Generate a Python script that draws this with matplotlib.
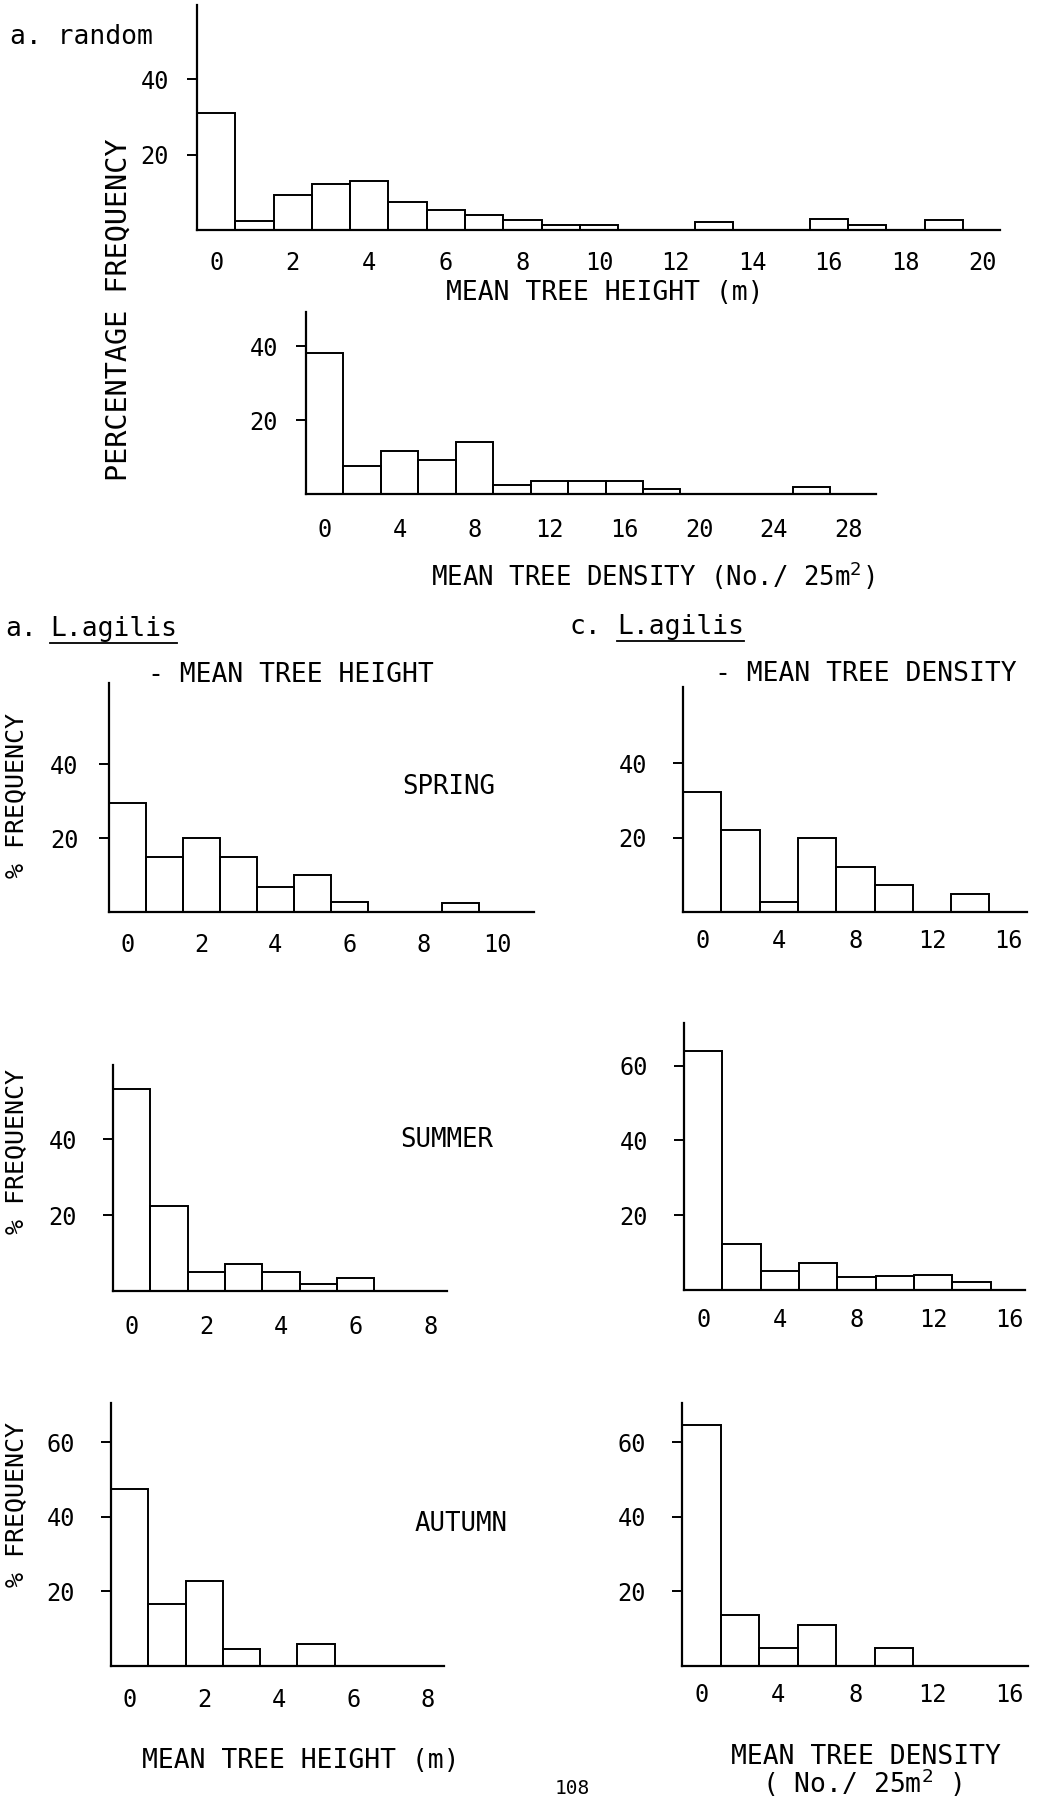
import matplotlib.pyplot as plt
from matplotlib.lines import Line2D


LARGURA_PX, ALTURA_PX = 1039, 1801

FONTE = 'DejaVu Sans Mono'

# quadrats aleatorios - altura media das arvores (classes de 1 m)
ALTURA_ALEATORIO_CLASSES = list(range(0, 20))
ALTURA_ALEATORIO_PCT = [31.0, 2.3, 9.4, 12.3, 12.9, 7.3, 5.4, 4.1, 2.7, 1.3,
                        1.3, 0.0, 0.0, 2.2, 0.0, 0.0, 2.8, 1.4, 0.0, 2.7]
ALTURA_ALEATORIO_TICKS = list(range(0, 21, 2))

# quadrats aleatorios - densidade media (classes de 2 arvores / 25 m2)
DENSIDADE_ALEATORIO_CLASSES = list(range(0, 28, 2))
DENSIDADE_ALEATORIO_PCT = [38.1, 7.7, 11.7, 9.2, 14.1, 2.4, 3.4, 3.4, 3.6, 1.4,
                           0.0, 0.0, 0.0, 1.8]
DENSIDADE_ALEATORIO_TICKS = [0, 4, 8, 12, 16, 20, 24, 28]

# L. agilis - altura media por estacao
ALTURA_PRIMAVERA_CLASSES = list(range(0, 11))
ALTURA_PRIMAVERA_PCT = [29.5, 14.9, 20.1, 15.0, 6.9, 9.9, 2.7, 0.0, 0.0, 2.5, 0.0]
ALTURA_VERAO_CLASSES = list(range(0, 8))
ALTURA_VERAO_PCT = [53.3, 22.4, 5.1, 7.1, 5.1, 1.8, 3.5, 0.0]
ALTURA_OUTONO_CLASSES = list(range(0, 8))
ALTURA_OUTONO_PCT = [47.5, 16.7, 22.9, 4.5, 0.0, 6.0, 0.0, 0.0]
ALTURA_PRIMAVERA_TICKS = [0, 2, 4, 6, 8, 10]
ALTURA_VERAO_TICKS = [0, 2, 4, 6, 8]

# L. agilis - densidade media por estacao
DENSIDADE_CLASSES = list(range(0, 18, 2))
DENSIDADE_PRIMAVERA_PCT = [32.3, 22.1, 2.6, 19.9, 12.2, 7.2, 0.0, 4.9, 0.0]
DENSIDADE_VERAO_PCT = [63.9, 12.3, 5.2, 7.1, 3.6, 3.8, 4.0, 2.1, 0.0]
DENSIDADE_OUTONO_PCT = [64.7, 13.8, 4.9, 11.0, 0.0, 4.7, 0.0, 0.0, 0.0]
DENSIDADE_TICKS = [0, 4, 8, 12, 16]


def fx(px):
    return px / LARGURA_PX


def fy(py):
    return 1 - py / ALTURA_PX


def criar_eixo(fig, x0, x1, base, topo):
    return fig.add_axes([fx(x0), fy(base), fx(x1 - x0), (base - topo) / ALTURA_PX])


def histograma(ax, classes, pct, largura, xlim, ylim, xticks, yticks, pad_x, pad_y):
    ax.bar(classes, pct, width=largura, fill=False, edgecolor='black',
           linewidth=1.4, align='center')
    ax.set_xlim(*xlim)
    ax.set_ylim(*ylim)
    ax.spines[['top', 'right']].set_visible(False)
    ax.spines[['left', 'bottom']].set_linewidth(1.6)
    ax.set_xticks(xticks)
    ax.set_yticks(yticks)
    ax.tick_params(axis='x', length=0, pad=pad_x, labelsize=17)
    ax.tick_params(axis='y', length=7, width=1.4, pad=pad_y, labelsize=17)
    ax.patch.set_alpha(0)


def texto(fig, x, y, s, tamanho=19, **kw):
    return fig.text(fx(x), fy(y), s, fontsize=tamanho, fontfamily=FONTE,
                    va=kw.pop('va', 'center'), **kw)


def sublinhar(fig, rotulo, deslocamento=1.5):
    renderer = fig.canvas.get_renderer()
    caixa = rotulo.get_window_extent(renderer).transformed(fig.transFigure.inverted())
    y = caixa.y0 - deslocamento / ALTURA_PX
    fig.add_artist(Line2D([caixa.x0, caixa.x1], [y, y], color='black',
                          linewidth=1.3, transform=fig.transFigure))


def main():
    plt.rcParams['font.family'] = FONTE
    plt.rcParams['mathtext.fontset'] = 'dejavusans'

    fig = plt.figure(figsize=(LARGURA_PX / 100, ALTURA_PX / 100), dpi=100)

    # bloco superior: quadrats aleatorios
    ax = criar_eixo(fig, 197, 1000, 230, 5)
    histograma(ax, ALTURA_ALEATORIO_CLASSES, ALTURA_ALEATORIO_PCT, 1,
               (-0.5, 20.47), (0, 59.7), ALTURA_ALEATORIO_TICKS, [20, 40], 15, 13)

    ax = criar_eixo(fig, 306, 876, 494, 312)
    histograma(ax, DENSIDADE_ALEATORIO_CLASSES, DENSIDADE_ALEATORIO_PCT, 2,
               (-1, 29.45), (0, 49.2), DENSIDADE_ALEATORIO_TICKS, [20, 40], 17, 13)

    texto(fig, 10, 37, 'a. random')
    texto(fig, 119, 310, 'PERCENTAGE FREQUENCY', tamanho=20.5, rotation=90, ha='center')
    texto(fig, 605, 293, 'MEAN TREE HEIGHT (m)', ha='center')
    texto(fig, 653, 576, 'MEAN TREE DENSITY (No./ 25m$^2$)', tamanho=18.5, ha='center')

    # L. agilis - altura (coluna esquerda)
    ax = criar_eixo(fig, 109, 534, 912, 683)
    histograma(ax, ALTURA_PRIMAVERA_CLASSES, ALTURA_PRIMAVERA_PCT, 1,
               (-0.5, 11.0), (0, 62), ALTURA_PRIMAVERA_TICKS, [20, 40], 15, 15)

    ax = criar_eixo(fig, 113, 447, 1291, 1065)
    histograma(ax, ALTURA_VERAO_CLASSES, ALTURA_VERAO_PCT, 1,
               (-0.5, 8.45), (0, 59.5), ALTURA_VERAO_TICKS, [20, 40], 17, 19)

    ax = criar_eixo(fig, 111, 444, 1666, 1403)
    histograma(ax, ALTURA_OUTONO_CLASSES, ALTURA_OUTONO_PCT, 1,
               (-0.5, 8.43), (0, 70.5), ALTURA_VERAO_TICKS, [20, 40, 60], 16, 19)

    # L. agilis - densidade (coluna direita)
    ax = criar_eixo(fig, 683, 1027, 912, 687)
    histograma(ax, DENSIDADE_CLASSES, DENSIDADE_PRIMAVERA_PCT, 2,
               (-1, 16.96), (0, 60.5), DENSIDADE_TICKS, [20, 40], 12, 19)

    ax = criar_eixo(fig, 684, 1025, 1290, 1023)
    histograma(ax, DENSIDADE_CLASSES, DENSIDADE_VERAO_PCT, 2,
               (-1, 16.8), (0, 71.4), DENSIDADE_TICKS, [20, 40, 60], 13, 19)

    ax = criar_eixo(fig, 682, 1028, 1666, 1403)
    histograma(ax, DENSIDADE_CLASSES, DENSIDADE_OUTONO_PCT, 2,
               (-1, 16.96), (0, 70.5), DENSIDADE_TICKS, [20, 40, 60], 12, 19)

    texto(fig, 5, 629, 'a.')
    especie_esq = texto(fig, 50, 629, 'L.agilis')
    texto(fig, 570, 627, 'c.')
    especie_dir = texto(fig, 617, 627, 'L.agilis')
    texto(fig, 148, 675, '- MEAN TREE HEIGHT')
    texto(fig, 715, 674, '- MEAN TREE DENSITY')

    for y in (795, 1152, 1504):
        texto(fig, 16, y, '% FREQUENCY', tamanho=18, rotation=90, ha='center')

    texto(fig, 402, 787, 'SPRING', tamanho=18.5)
    texto(fig, 400, 1140, 'SUMMER', tamanho=18.5)
    texto(fig, 415, 1524, 'AUTUMN', tamanho=18.5)

    texto(fig, 301, 1761, 'MEAN TREE HEIGHT (m)', ha='center')
    texto(fig, 866, 1757, 'MEAN TREE DENSITY', ha='center')
    texto(fig, 862, 1783, '( No./ 25m$^2$ )', ha='center')
    texto(fig, 572, 1798, '108', tamanho=14, ha='center', va='bottom')

    sublinhar(fig, especie_esq)
    sublinhar(fig, especie_dir)

    fig.savefig('out.png', dpi=100, facecolor='white')


if __name__ == '__main__':
    main()
